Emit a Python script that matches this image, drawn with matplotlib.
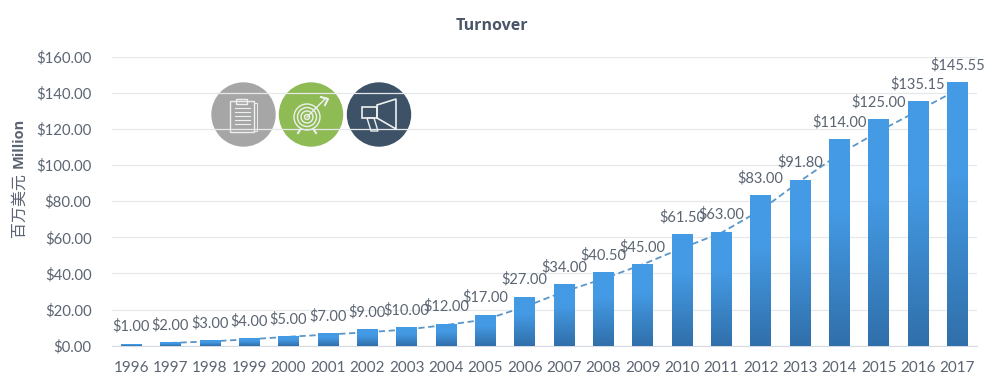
import numpy as np
from matplotlib import pyplot as plt
from matplotlib.patches import Circle, Polygon, Rectangle

years = [str(y) for y in range(1996, 2018)]
turnover = [1, 2, 3, 4, 5, 7, 9, 10, 12, 17, 27, 34, 40.5, 45, 61.5, 63, 83, 91.8, 114, 125, 135.15, 145.55]
trend = [np.nan, 1.6, 2.4, 3.6, 5, 6.2, 7.5, 9, 11.5, 14.5, 21.5, 30, 37, 45, 54, 62.5, 75, 91, 106, 118.5, 130, 141.5]
y_ticks = [0, 20, 40, 60, 80, 100, 120, 140, 160]

TEXT = '#5b6472'
FONT = 'Lato'
BOLD = ['Open Sans', 'DejaVu Sans']

plt.rcParams['font.family'] = [FONT, 'DejaVu Sans']
fig = plt.figure(figsize=(10, 3.91), dpi=100)
ax = fig.add_axes([0.1115, 1 - 345.8 / 391, 0.8655, 289.3 / 391], facecolor='none')
x = np.arange(len(years))

ax.set_axisbelow(True)
ax.grid(axis='y', color='#e6e8ec', lw=0.9)
ax.tick_params(length=0, labelcolor=TEXT)
ax.set_xticks(x, years)
ax.set_yticks(y_ticks, ['$%.2f' % v for v in y_ticks])
ax.tick_params(axis='x', pad=11, labelsize=11)
ax.tick_params(axis='y', pad=14.5, labelsize=10.7)
for side in ['top', 'right', 'left']:
    ax.spines[side].set_visible(False)
ax.spines['bottom'].set_color('#d5dae4')

# dashed trend sits behind the bars
ax.plot(x, trend, color='#5b96c8', lw=1.3, ls=(0, (3.5, 2)), zorder=2)

# gradient bars, image stretched over each bar
t = np.clip((np.linspace(0, 1, 256) - 0.35) / 0.65, 0, 1).reshape(-1, 1, 1)
top = np.array([0x44, 0x9a, 0xe4]) / 255
bottom = np.array([0x30, 0x6f, 0xaa]) / 255
colors = top * (1 - t) + bottom * t
width = 0.52
for xi, v in zip(x, turnover):
    ax.imshow(colors, extent=(xi - width / 2, xi + width / 2, 0, v), aspect='auto', zorder=3, interpolation='bilinear')
ax.set_xlim(-0.5, len(years) - 0.5)
ax.set_ylim(0, 160)

for xi, v in zip(x, turnover):
    ax.text(xi, v + 5.6, '$%.2f' % v, ha='center', va='bottom', fontsize=10.5, color=TEXT, zorder=5)

fig.text(492 / 1000, 1 - 26 / 391, 'Turnover', ha='center', va='center', fontsize=11.5,
         fontweight='bold', color='#4a5568', family=BOLD)
fig.text(19 / 1000, 1 - 168 / 391, 'Million', rotation=90, ha='center', va='bottom', fontsize=10.5,
         fontweight='bold', color=TEXT, family=BOLD)
fig.text(19 / 1000, 1 - 237 / 391, '百万美元', rotation=90, ha='center', va='bottom', fontsize=11.5,
         color=TEXT, family=['Noto Sans CJK SC', 'DejaVu Sans'])

# icon badges drawn in pixel space on an underlay, grid lines cross them
ov = fig.add_axes([0, 0, 1, 1], zorder=-1)
ov.set_xlim(0, 1000)
ov.set_ylim(391, 0)
ov.axis('off')
W = '#eef0f0'
ov.add_patch(Circle((243.5, 114.5), 31.5, color='#a6a6a6'))
ov.add_patch(Circle((311, 114.5), 31.5, color='#8fbb55'))
ov.add_patch(Circle((379, 114.5), 31.5, color='#3d5266'))

# clipboard
ov.add_patch(Rectangle((230, 101), 24, 31, fill=False, ec=W, lw=1))
ov.add_patch(Rectangle((254, 103), 2.5, 28, fill=False, ec=W, lw=0.7))
ov.add_patch(Rectangle((236, 99), 11, 5, fill=False, ec=W, lw=1))
for yy in [108, 112, 116, 120, 124]:
    ov.plot([235, 250], [yy, yy], color=W, lw=0.8)

# target
for r in [13, 9.5, 6, 2.5]:
    ov.add_patch(Circle((307, 117), r, fill=False, ec=W, lw=1))
ov.plot([307, 326], [117, 98], color=W, lw=1)
ov.plot([321, 328, 325], [97, 99, 105], color=W, lw=1.5)
ov.plot([300, 298], [130, 133], color=W, lw=1.5)
ov.plot([314, 316], [130, 133], color=W, lw=1.5)

# megaphone
ov.add_patch(Polygon([[377, 105], [396, 99], [396, 129], [377, 118]], fill=False, ec=W, lw=1.2))
ov.add_patch(Rectangle((362, 107), 15, 11, fill=False, ec=W, lw=1.2))
ov.add_patch(Polygon([[367, 118], [374, 118], [378, 131], [371, 131]], fill=False, ec=W, lw=1))

fig.savefig('out.png', dpi=100)
